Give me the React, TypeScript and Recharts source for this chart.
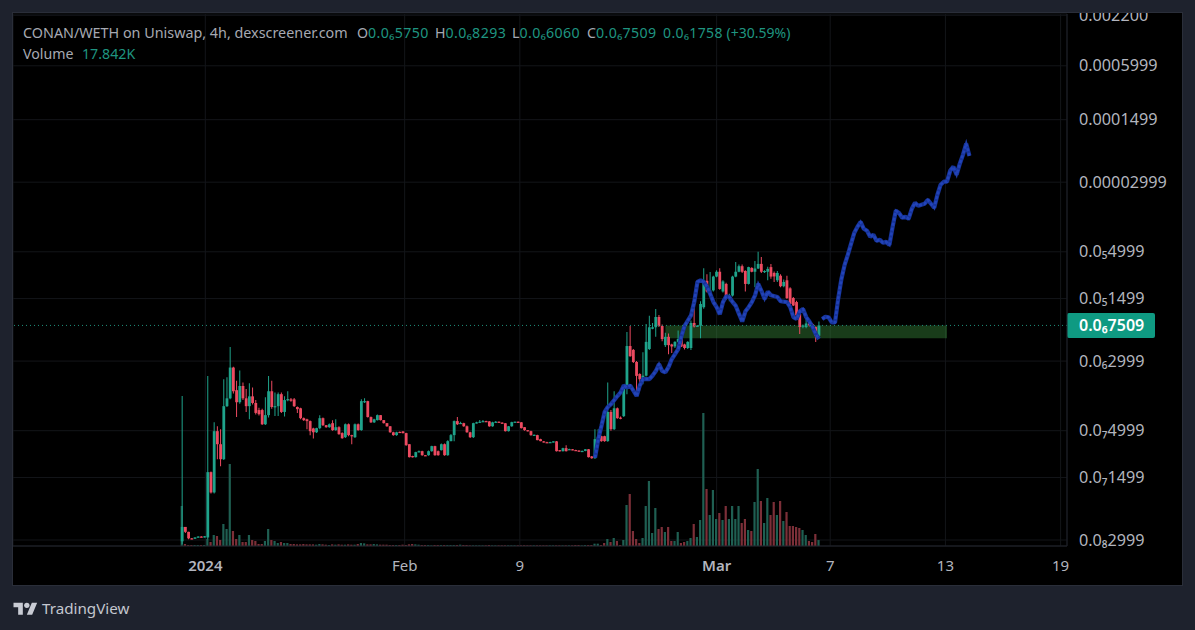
import React from "react";
import { ComposedChart, Bar, Line, XAxis, YAxis, CartesianGrid, Cell, ReferenceLine, ReferenceArea } from "recharts";

// Prices are in units of 1e-9 WETH: [open, high, low, close]
const candleRows: number[][] = [
[2.9,122,2.68,4.2],[4.2,4.2,3.6,3.7],[3.7,3.7,3.05,3.13],[3.13,3.15,3.05,3.08],[3.1,3.22,3.08,3.2],[3.2,3.3,3.18,3.28],[3.28,3.3,3.2,3.25],[3.25,3.32,3.2,3.3],
[3.2,204,3.05,17.2],[17.2,17.5,9.9,10.2],[10.2,62.3,9.9,49.4],[49.4,56.2,24,35.3],[35.3,52,20,24],[24,188,23.5,94],[94,198,92,115],[115,432,112,254],
[254,260,130,138],[142,181,71,104],[104,236,100,158],[158,173,110,115],[115,146,81,94],[94,170,67,121],[121,152,98,102],[102,110,76,79],
[85,90,74,76.5],[85,88,58,59],[59,118,58,74.6],[74.6,204,70,138],[138,181,88,92],[92,134,73,94],[94,134,73,128],[128,134,79,81],
[81,121,72,110],[110,138,107,112.7],[112,116,105,108],[112,116,92,94],[92,93,78.6,87],[89,90,67,69],[69,70,64,65.6],[67,68,52,64],
[64,65,44.6,49.4],[53,54,41,48],[48,54,47,53.4],[53.4,74.6,52,69],[69,70,56.5,57.6],[57.6,58,54,54.7],[54.7,60,54,59],[60.7,65.6,50,50.7],
[50.7,67,50,54.7],[54.7,56,45,45.7],[47,48,40.5,41.2],[42.3,60,41.5,59],[59,60,43.4,44.6],[44.6,45,35.3,43.4],[42.3,60,41.5,59],[59,60,50,50.7],
[50.7,112,50,107],[104,115,102,107],[107,108,70,71],[71,72,61,62],[62,68,61,67],[65.6,76,65,74.6],[74.6,75,65,65.6],[65.6,66,60,60.7],
[60.7,61,55.5,56],[56,56.5,47.5,48],[48,48.5,44,44.6],[44.6,48.5,44,48],[48.5,49,47,47.5],[49,49.5,46.5,47],[47,47.5,34,34.4],[35.3,35.6,25,25.3],
[26,26.2,25,25.3],[25.3,29,25,28.8],[28.8,30,28.5,29.5],[29.5,29.8,26.3,26.6],[26.6,26.8,26,26.2],[26.6,30,26.3,29.5],[29.5,34,29,33.6],[33.6,34,26.3,26.6],
[29.5,30,26.3,26.6],[30.3,36,30,35.3],[35.3,36,26.3,26.6],[26.6,39,26.3,38.2],[38.2,46,38,44.6],[44.6,65,38,64],[64,71,58,59],[60,63,59.5,61],
[60.7,61.5,55.5,56],[56,57,47.5,48],[48,48.5,41.5,42.3],[42.3,61.5,41.5,60.7],[60.7,63,60,62],[62,66,61.5,63],[63,66,62.5,64],[64,64.5,63,63.5],
[63.5,64,55.5,56],[56,63,55.5,62],[62,64,61.5,63],[63,63.5,62,62.5],[61.5,62,60,60.5],[60.5,61,49,49.4],[49.4,56.5,49,56],[56,63,55.5,62.3],
[62.3,63.5,62,63],[63,63.5,61.5,62],[62,62.5,53,53.4],[54.7,55,50,50.7],[50.7,51,49,49.4],[49.4,49.8,44,44.6],[44.6,45.3,44.2,45],[44.6,45,39,39.2],
[40.2,40.5,38,38.2],[38,38.3,37,37.2],[37.2,37.5,36.5,36.8],[36.8,37.6,36.6,37.3],[37.3,38.2,37,38],[38,38.3,29.3,29.5],[30.3,30.5,29.2,29.5],[29.5,32.2,29.2,31.9],
[31.9,34.4,29.2,29.5],[30.8,31.4,30.5,31.1],[31,31.2,30.2,30.4],[30.4,30.6,29.8,30],[30,30.2,29,29.2],[29.2,30,29,29.7],[29.7,31.3,29.5,31],[31,31.2,25,25.3],
[25.8,26,24.3,24.6],
[24.6,52,24.3,40.2],[40.2,52,40,42.3],[43.4,44,37.5,38.2],[43.4,44,37.5,38.2],[38.2,173,37.5,81],[81,85,50,52],[52,138,51,89],[89,91,68,69],[70,72,67,68],[72.7,156,71,152],
[152,633,128,442],[442,738,335,340],[400,410,285,293],[293,300,138,205],[215,220,141,188],[188,377,165,206],[206,779,202,492],[409,961,400,716],[690,800,680,716],[716,1147,560,933],
[933,980,720,740],[740,770,500,529],[452,620,430,560],[560,610,358,452],[460,470,370,437],[437,500,420,492],[492,660,480,530],[560,580,430,437],[460,470,405,420],[420,500,410,492],
[420,850,400,800],[800,1374,710,730],[730,760,720,745],[745,1400,540,1305],[1200,3280,1150,2370],[2370,2800,1750,1800],[1800,2980,1750,1850],[1850,2700,1800,2640],[2640,3100,2600,2990],[2990,3280,1880,1920],
[1800,2400,1750,2330],[2185,2250,1450,1520],[1500,1700,1400,1620],[1620,2700,1580,2640],[2640,3850,2600,2990],[2990,3600,2950,3450],[3450,3600,2900,2990],[3050,3100,1800,2185],[2185,3400,2150,3370],[3300,3350,2950,2990],
[2990,3950,2000,3250],[3250,4990,3200,3660],[3660,4370,2900,2990],[2990,3100,2900,3050],[2990,3400,2400,3217],[3370,3660,2500,2640],[2900,3000,2300,2650],[2400,3050,2300,2900],[2700,2800,2000,2060],[2060,2450,2000,2300],
[2400,2700,1480,1520],[1950,2000,1280,1305],[1520,1560,1240,1255],[1370,1420,950,970],[1010,1040,602,720],[730,770,700,750],[720,1000,700,790],[825,850,730,750],[780,800,700,715],[720,730,490,570],
[575,829.3,560,750.9],
];

// Volume in thousands, one per candle
const volumes: number[] = [
120,6,3,3,3,3,3,3,21,12,33,30,18,66,51,246,45,21,33,12,12,33,18,15,6,6,15,51,18,15,9,12,9,9,
6,6,5,5,6,5,5,5,4,6,5,4,3,5,4,5,4,4,5,4,4,6,9,8,
5,5,6,5,4,4,4,3,3,3,3,4,3,5,6,5,4,3,3,3,2,3,3,3,3,3,3,3,3,4,3,3,2,2,2,2,
2,2,3,2,2,2,2,2,2,2,2,2,2,2,2,2,2,2,2,2,2,2,2,2,2,2,2,2,2,3,3,2,3,3,3,
7,7,3,9,21,12,24,15,3,18,123,156,45,21,9,24,120,195,39,114,51,57,42,57,15,15,42,9,12,15,
24,66,27,78,399,171,93,168,81,99,78,120,81,120,81,120,69,81,48,45,132,231,135,69,144,93,132,93,135,75,
102,60,60,57,54,48,33,15,12,36,17.842,
];

// Hand-drawn projected path: candle slot and price (null is the break in the stroke)
const pathSlots: number[] = [129,130,131,132,133,134,136,137,138,139,140,142,143,144,146,147,148,149,150,151,152,153,155,156,157,159,160,161,162,163,164,165,166,167,168,169,170,171,172,173,174,175,176,177,178,179,180,181,182,183,184,186,187,189,190,191,192,193,194,195,196,197,198,199,199.5,200,201,202,203,204,205,206,207,208,209,210,211,212,213,214,215,216,217,218,219,220,221,222,223,224,225,226,227,228,229,230,231,232,233,234,235,236,237,238,239,240,241,242,243,244,245,246];
const pathPrices: (number | null)[] = [25,40,56.5,81,92,99,122,134,160,152,160,122,160,189,189,207,232,278,232,225,258,316,409,570,745,970,1370,2300,2400,2300,2040,1690,1370,1200,1000,1370,1590,1560,1370,1240,1010,830,1080,1200,1370,1630,2185,1830,1484,1800,1630,1560,1400,1370,1200,930,886,1080,1147,930,830,720,600,530,null,886,940,925,810,810,1500,2486,3570,4610,6130,8100,9500,10800,9030,8600,7350,7750,6620,6800,6300,6450,5970,9500,14400,13600,12000,12300,11680,15120,17700,16300,16800,17200,19000,17200,15500,21700,28100,30400,30400,40400,44700,36400,48260,61000,80800,59000];

const priceTicks: number[] = [2200000,599900,149900,29990,4999,1499,299.9,49.99,14.99,2.999];
const priceLabels: string[] = ["0.002200","0.0005999","0.0001499","0.00002999","0.0₅4999","0.0₅1499","0.0₆2999","0.0₇4999","0.0₇1499","0.0₈2999"];
const timeTicks: number[] = [7.2,69.5,105.5,167,202.5,238.5,274.5];
const timeLabels: string[] = ["2024","Feb","9","Mar","7","13","19"];
const lastPrice = 750.9;
const lastLabel = "0.0₆7509";
const zoneLow = 540;
const zoneSlots: number[] = [151, 239];

const FONT = "'Noto Sans', sans-serif";
const GREEN = "#1fa38b";
const RED = "#ec4a60";
const VOL_GREEN = "#1f5f52";
const VOL_RED = "#7c2f38";

const rows = candleRows.map(([o, h, l, c], idx) => ({
  idx,
  wick: [l, h],
  body: [Math.min(o, c), Math.max(o, c)],
  vol: volumes[idx],
  up: c >= o,
}));
const pathRows = pathSlots.map((idx, i) => ({ idx, path: pathPrices[i] }));

const PriceTick = (p: any) => {
  const i = priceTicks.indexOf(p.payload.value);
  return (
    <text x={1066} y={p.y + 5.5} fill="#b2b5be" fontSize={16.2} fontFamily={FONT}>
      {priceLabels[i]}
    </text>
  );
};
const TimeTick = (p: any) => {
  const i = timeTicks.indexOf(p.payload.value);
  const strong = i === 0 || i === 3;
  return (
    <text x={p.x} y={558} textAnchor="middle" fill="#b2b5be" fontSize={15} fontWeight={strong ? 600 : 400} fontFamily={FONT}>
      {timeLabels[i]}
    </text>
  );
};
const PriceTag = (p: any) => {
  const v = p.viewBox;
  return (
    <g>
      <rect x={v.x + v.width} y={v.y - 12.5} width={88} height={25} rx={2} fill="#0f9a82" />
      <text x={1066} y={v.y + 5.5} fill="#fff" fontSize={16} fontWeight={600} fontFamily={FONT}>{lastLabel}</text>
    </g>
  );
};
// Candle body centred on the slot the library computed for it
const CandleBody = (p: any) => (
  <rect x={p.x + p.width / 2 - 1.4} y={p.y} width={2.8} height={Math.max(p.height, 1.2)} fill={p.payload.up ? GREEN : RED} />
);

const legendText: React.CSSProperties = { position: "absolute", top: 24, fontFamily: FONT, fontSize: 14.2, color: "#a6a9b2", whiteSpace: "nowrap", lineHeight: "18px" };
const legendValue: React.CSSProperties = { color: "#1f9580" };
const legendNumber: React.CSSProperties = { color: "#1f9580", letterSpacing: 0.4 };

const Legend = () => (
  <>
    <div style={{ ...legendText, left: 23, fontSize: 14.35 }}>CONAN/WETH on Uniswap, 4h, dexscreener.com</div>
    <div style={{ ...legendText, left: 357 }}>O<span style={legendNumber}>0.0₆5750</span></div>
    <div style={{ ...legendText, left: 435 }}>H<span style={legendNumber}>0.0₆8293</span></div>
    <div style={{ ...legendText, left: 512 }}>L<span style={legendNumber}>0.0₆6060</span></div>
    <div style={{ ...legendText, left: 587 }}>C<span style={legendNumber}>0.0₆7509</span></div>
    <div style={{ ...legendText, left: 663, ...legendValue, fontSize: 14 }}><span style={legendNumber}>0.0₆1758</span> (+30.59%)</div>
    <div style={{ ...legendText, left: 23, top: 45 }}>Volume</div>
    <div style={{ ...legendText, left: 82, top: 45, ...legendValue }}>17.842K</div>
  </>
);

export default function App() {
  return (
    <div style={{ position: "absolute", left: 0, top: 0, width: 1195, height: 630, background: "#1e222d", overflow: "hidden" }}>
      <div style={{ position: "absolute", left: 13, top: 13, width: 1169, height: 572, background: "#000", boxShadow: "0 0 0 1px #2a2e39" }}>
        <ComposedChart width={1169} height={572} data={rows} margin={{ top: 1, right: 0, bottom: 0, left: 0 }}>
          <CartesianGrid xAxisId="time" yAxisId="price" stroke="#131519" strokeWidth={1} />
          <XAxis xAxisId="time" dataKey="idx" type="number" domain={[-52.9, 276.5]} allowDataOverflow ticks={timeTicks} interval={0} height={39} stroke="#22252c" tickLine={false} tick={TimeTick} />
          <XAxis xAxisId="wick" dataKey="idx" type="number" domain={[-52.9, 276.5]} allowDataOverflow hide />
          <XAxis xAxisId="vol" dataKey="idx" type="number" domain={[-52.9, 276.5]} allowDataOverflow hide />
          <YAxis yAxisId="price" orientation="right" scale="log" type="number" domain={[2.57, 2275000]} allowDataOverflow ticks={priceTicks} interval={0} width={115} stroke="#1e2129" tickLine={false} tick={PriceTick} />
          <YAxis yAxisId="volume" type="number" domain={[0, 1596]} allowDataOverflow hide />

          <Bar xAxisId="vol" yAxisId="volume" dataKey="vol" barSize={2.2} isAnimationActive={false}>
            {rows.map((r) => <Cell key={r.idx} fill={r.up ? VOL_GREEN : VOL_RED} />)}
          </Bar>
          <Line xAxisId="time" yAxisId="price" data={pathRows} dataKey="path" stroke="#17349a" strokeWidth={4.2} strokeLinejoin="bevel" dot={false} isAnimationActive={false} />
          <Line xAxisId="time" yAxisId="price" data={pathRows} dataKey="path" stroke="#2547bd" strokeOpacity={0.85} strokeWidth={2.6} strokeDasharray="3 2" dot={false} isAnimationActive={false} />
          <ReferenceArea xAxisId="time" yAxisId="price" x1={zoneSlots[0]} x2={zoneSlots[1]} y1={zoneLow} y2={lastPrice} fill="#3b8f3e" fillOpacity={0.42} stroke="none" />
          <ReferenceLine xAxisId="time" yAxisId="price" y={lastPrice} stroke="#1f8f7b" strokeDasharray="1 3" label={PriceTag} />
          <Bar xAxisId="wick" yAxisId="price" dataKey="wick" barSize={1} isAnimationActive={false}>
            {rows.map((r) => <Cell key={r.idx} fill={r.up ? GREEN : RED} />)}
          </Bar>
          <Bar xAxisId="time" yAxisId="price" dataKey="body" barSize={3} isAnimationActive={false} shape={CandleBody} />
        </ComposedChart>
      </div>
      <Legend />
      <svg style={{ position: "absolute", left: 13, top: 600 }} width={25} height={16} viewBox="0 0 36 24">
        <path fill="#c9ccd4" d="M14 22H7V11H0V4h14v18zM28 22h-8l7.5-18h8L28 22z" />
        <circle fill="#c9ccd4" cx="20" cy="8" r="4" />
      </svg>
      <div style={{ position: "absolute", left: 42, top: 597, fontFamily: FONT, fontSize: 15.2, color: "#c4c7cf", lineHeight: "22px" }}>TradingView</div>
    </div>
  );
}
